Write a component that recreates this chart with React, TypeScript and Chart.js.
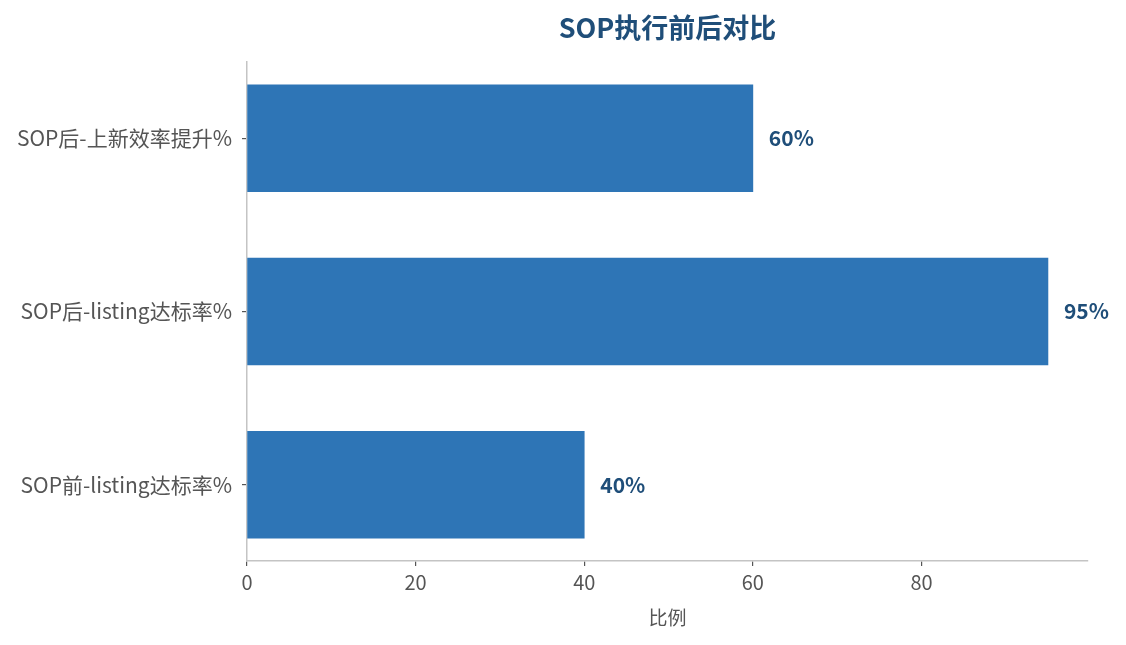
import React, { useEffect, useRef } from "react";
import { Chart, registerables } from "chart.js";

Chart.register(...registerables);

const categories = ["SOP前-listing达标率%", "SOP后-listing达标率%", "SOP后-上新效率提升%"];
const values = [40, 95, 60];
const xTicks = [0, 20, 40, 60, 80];
const titleText = "SOP执行前后对比";
const xTitle = "比例";

const FONT = "'Noto Sans CJK SC', 'Noto Sans', sans-serif";
const BAR = "#2e75b6";
const DARK = "#1f4e79";
const GRAY = "#555555";

export default function App() {
  const ref = useRef<HTMLCanvasElement | null>(null);
  useEffect(() => {
    document.body.style.margin = "0";
    const canvas = ref.current!;
    const overlay = {
      id: "overlay",
      afterDatasetsDraw(chart: any) {
        const ctx = chart.ctx;
        const area = chart.chartArea;
        ctx.save();
        ctx.fillStyle = DARK;
        ctx.font = `bold 27px ${FONT}`;
        ctx.textAlign = "center";
        ctx.textBaseline = "middle";
        ctx.fillText(titleText, (area.left + area.right) / 2, 28);
        const meta = chart.getDatasetMeta(0);
        ctx.font = `bold 21px ${FONT}`;
        ctx.textAlign = "left";
        meta.data.forEach((bar: any, i: number) => {
          ctx.fillText(values[i] + "%", bar.x + 16, bar.y);
        });
        ctx.restore();
      },
    };
    const chart = new Chart(canvas, {
      type: "bar",
      data: {
        datasets: [
          {
            data: values.map((v, i) => ({ x: v, y: i })),
            backgroundColor: BAR,
            borderWidth: 0,
            barThickness: 107,
          },
        ],
      },
      options: {
        indexAxis: "y",
        animation: false,
        responsive: false,
        devicePixelRatio: 1,
        layout: { padding: { top: 62, right: 38, left: 0, bottom: 0 } },
        plugins: { legend: { display: false }, tooltip: { enabled: false }, title: { display: false } },
        scales: {
          x: {
            type: "linear",
            min: 0,
            max: 99.75,
            offset: false,
            afterBuildTicks: (s: any) => {
              s.ticks = xTicks.map((v) => ({ value: v }));
            },
            afterFit: (s: any) => {
              s.height = 84;
            },
            grid: { drawOnChartArea: false, drawTicks: true, tickLength: 5, color: GRAY, lineWidth: 1.2, offset: false },
            border: { display: true, color: "#c4c4c4", width: 1.5 },
            ticks: { color: GRAY, font: { family: FONT, size: 20 }, padding: 4 },
            title: { display: true, text: xTitle, color: GRAY, font: { family: FONT, size: 19 }, padding: { top: 4, bottom: 16 } },
          },
          y: {
            type: "linear",
            min: -0.44,
            max: 2.44,
            offset: false,
            afterBuildTicks: (s: any) => {
              s.ticks = categories.map((_, i) => ({ value: i }));
            },
            afterFit: (s: any) => {
              s.width = 247;
            },
            grid: { drawOnChartArea: false, drawTicks: true, tickLength: 5, color: GRAY, lineWidth: 1.2, offset: false },
            border: { display: true, color: "#c4c4c4", width: 1.5 },
            ticks: {
              color: GRAY,
              font: { family: FONT, size: 21 },
              padding: 10,
              callback: (v: any) => categories[Math.round(Number(v))] ?? "",
            },
          },
        },
      },
      plugins: [overlay],
    } as any);
    return () => chart.destroy();
  }, []);
  return (
    <div style={{ width: 1126, height: 645, background: "#fff" }}>
      <canvas ref={ref} width={1126} height={645} style={{ display: "block" }} />
    </div>
  );
}
